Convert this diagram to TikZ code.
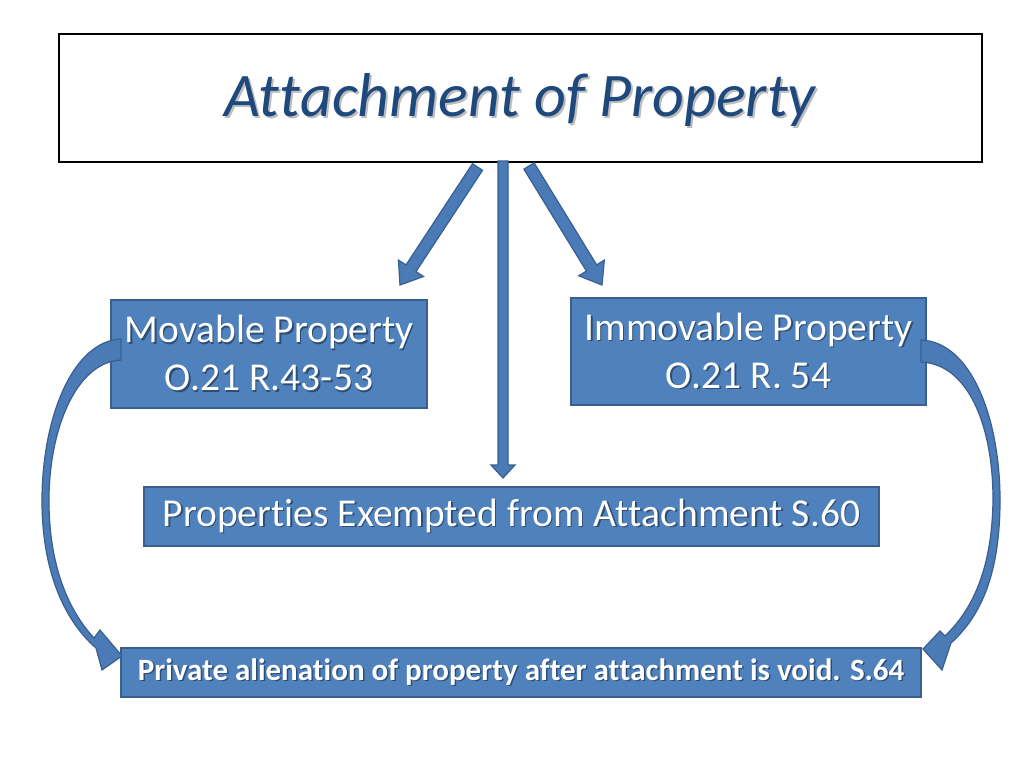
\documentclass[tikz,border=0pt]{standalone}
\usepackage{fontspec}
\setmainfont{Carlito}[Ligatures=NoCommon,RawFeature={-liga;-clig;-calt;-dlig}]
\usetikzlibrary{calc}
\definecolor{boxfill}{HTML}{4F81BD}
\definecolor{boxedge}{HTML}{3A5F8F}
\definecolor{arrfill}{HTML}{4A7BB7}
\definecolor{titlec}{HTML}{1F497D}
\definecolor{shadc}{HTML}{2E4D75}
\definecolor{tshadc}{HTML}{BDBDBD}
\newcommand\nlg{\kern0pt }
\newcommand\shd[1]{\leavevmode\rlap{\hspace{1.5pt}\raisebox{-1.5pt}{\textcolor{shadc}{#1}}}#1}
\newcommand\tshd[1]{\leavevmode\rlap{\hspace{2pt}\raisebox{-2pt}{\textcolor{tshadc}{#1}}}#1}
\tikzset{
  bluebox/.style={draw=boxedge, fill=boxfill, line width=2pt, text=white, inner sep=0pt, align=center},
  blockarr/.style={draw=boxedge, fill=arrfill, line width=1.2pt, line join=miter},
  bigtext/.style={font=\fontsize{39.5}{48}\selectfont},
}
% start, end, shaft half width, head half width, head length
\newcommand\blockarrow[5]{%
  \coordinate (ba-h) at ($(#2)!#5pt!(#1)$);
  \draw[blockarr] ($(#1)!#3pt!90:(#2)$) -- ($(ba-h)!#3pt!-90:(#1)$) -- ($(ba-h)!#4pt!-90:(#1)$)
    -- (#2) -- ($(ba-h)!#4pt!90:(#1)$) -- ($(ba-h)!#3pt!90:(#1)$) -- ($(#1)!#3pt!-90:(#2)$) -- cycle;
}
\begin{document}
\begin{tikzpicture}[x=1pt,y=-1pt]
\useasboundingbox[fill=white] (0,0) rectangle (1024,768);

% title
\node[draw=black, line width=2.2pt, fill=white, minimum width=923pt, minimum height=128pt, inner sep=0pt] (title) at (520.5,98) {};
\node[font=\fontsize{62}{70}\selectfont\itshape, text=titlec, anchor=base, inner sep=0pt] (ttl) at (520,116) {\tshd{At\nlg t\nlg achment of Property}};

% boxes
\node[bluebox, bigtext, minimum width=316pt, minimum height=108pt] (mov) at (269,354) {\shd{Movable Property}\\\shd{O.21 R.43-53}};
\node[bluebox, bigtext, minimum width=355pt, minimum height=107pt] (imm) at (748.5,351.5) {\shd{Immovable Property}\\\shd{O.21 R. 54}};
\node[bluebox, bigtext, minimum width=735pt, minimum height=59pt] (exm) at (511.5,516.5) {\shd{Propert\nlg ies Exempted from At\nlg t\nlg achment S.60}};
\node[bluebox, font=\fontsize{31}{36}\selectfont\bfseries, minimum width=800pt, minimum height=49pt] (prv) at (521,672.5) {\shd{Private alienat\nlg ion of property after at\nlg t\nlg achment is void. S.64}};

% straight block arrows
\coordinate (aL0) at (477.5,167);
\coordinate (aL1) at (400,285);
\coordinate (aR0) at (529,166);
\coordinate (aR1) at (602,285);
\coordinate (aV0) at (503,161);
\coordinate (aV1) at (503,478);
\blockarrow{aL0}{aL1}{6}{15}{20}
\blockarrow{aR0}{aR1}{6}{15}{20}
\blockarrow{aV0}{aV1}{5}{12}{13}

% curved block arrows
\draw[blockarr] (121,339) .. controls (72,341) and (41,420) .. (42,505)
  .. controls (43,575) and (66,622) .. (96,648) -- (102,670) -- (122,656) -- (100,630) -- (94,638)
  .. controls (70,612) and (50,570) .. (49,505)
  .. controls (48,430) and (76,362) .. (121,360) -- cycle;
\draw[blockarr] (921,340) .. controls (972,342) and (1000,420) .. (1000,500)
  .. controls (1000,572) and (982,615) .. (951,643) -- (942,670) -- (923,649) -- (940,631) -- (945,636)
  .. controls (972,610) and (992,570) .. (993,500)
  .. controls (993,425) and (968,364) .. (921,362) -- cycle;
\end{tikzpicture}
\end{document}
